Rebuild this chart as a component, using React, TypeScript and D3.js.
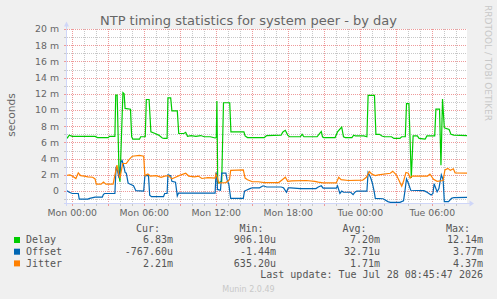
import * as d3 from 'd3';

const W = 497;
const H = 299;

// time window, hours relative to Mon 00:00
const T_START = -0.44;
const T_END = 32.89;

const X_TICKS = [0, 6, 12, 18, 24, 30];
const X_TICK_LABELS = ['Mon 00:00', 'Mon 06:00', 'Mon 12:00', 'Mon 18:00', 'Tue 00:00', 'Tue 06:00'];
const Y_TICKS = [0, 2, 4, 6, 8, 10, 12, 14, 16, 18, 20];

// [hour, milliseconds]
const DELAY: [number, number][] = [
  [-0.44, 6.5], [-0.25, 6.9], [0.0, 6.75], [1.9, 6.75], [2.1, 6.6], [3.0, 6.6], [3.1, 6.75], [3.55, 6.75],
  [3.62, 11.85], [3.74, 11.85], [3.9, 2.0], [3.97, 1.15], [4.22, 12.14], [4.32, 12.0], [4.4, 10.2], [4.85, 10.1],
  [4.95, 6.7], [5.05, 6.4], [5.6, 6.4], [5.7, 6.7], [6.08, 6.7], [6.17, 11.3], [6.4, 11.3], [6.55, 7.3],
  [6.9, 7.1], [7.2, 6.9], [7.5, 6.55], [7.65, 6.5], [7.9, 6.5], [7.97, 11.5], [8.2, 11.5], [8.3, 9.9],
  [8.75, 9.9], [8.87, 7.1], [9.3, 7.1], [9.45, 7.25], [9.6, 6.75], [9.9, 6.85], [10.3, 6.75], [10.7, 6.85],
  [11.0, 6.7], [11.5, 6.7], [11.9, 6.55], [12.0, 6.6], [12.05, 11.1], [12.12, 0.95], [12.45, 1.2], [12.6, 10.9],
  [13.12, 10.9], [13.22, 7.3], [14.3, 7.3], [14.4, 6.8], [14.6, 6.6], [16.0, 6.6], [16.2, 6.85], [17.4, 6.9],
  [17.55, 7.3], [17.75, 7.5], [17.95, 6.9], [18.1, 6.7], [19.0, 6.7], [19.15, 7.0], [19.3, 6.7], [20.4, 6.7],
  [20.6, 7.1], [20.75, 7.35], [20.85, 6.7], [20.95, 6.6], [21.9, 6.6], [22.1, 7.3], [22.45, 7.9], [22.6, 6.7],
  [22.75, 6.6], [23.3, 6.6], [23.45, 6.9], [23.6, 6.8], [24.3, 6.8], [24.55, 6.7], [24.65, 11.8], [25.18, 11.8],
  [25.3, 7.0], [25.6, 7.0], [25.8, 6.8], [26.0, 6.7], [26.6, 6.7], [26.8, 6.5], [27.3, 6.5], [27.45, 6.7],
  [27.75, 6.7], [27.85, 10.8], [28.05, 10.8], [28.25, 1.6], [28.4, 6.8], [28.75, 6.8], [28.9, 6.5], [29.4, 6.4],
  [29.55, 6.8], [30.2, 6.8], [30.3, 10.1], [30.6, 10.1], [30.72, 3.2], [30.85, 11.35], [31.0, 7.8], [31.4, 7.6],
  [31.55, 7.0], [31.8, 6.9], [32.89, 6.85],
];

const OFFSET: [number, number][] = [
  [-0.44, 0.05], [-0.25, -0.15], [0.0, -0.3], [0.5, -0.3], [0.58, -1.0], [1.3, -1.0], [1.45, -0.9], [1.9, -0.75],
  [2.5, -0.75], [2.6, -0.4], [2.7, -0.3], [3.55, -0.3], [3.65, 3.0], [3.75, 2.6], [3.9, 1.6], [4.05, 3.6],
  [4.15, 3.77], [4.3, 3.0], [4.4, 2.3], [4.5, 2.2], [4.65, 1.0], [4.75, 0.9], [5.1, 0.65], [5.3, 0.05],
  [5.95, 0.0], [6.05, 1.9], [6.35, 1.9], [6.45, -0.5], [6.6, -0.7], [7.6, -0.7], [7.7, -0.3], [7.9, -0.3],
  [7.97, 2.0], [8.2, 1.9], [8.3, 1.2], [8.6, 1.1], [8.75, -0.6], [8.85, -0.25], [11.9, -0.25], [11.98, 2.3],
  [12.05, 2.0], [12.1, 0.2], [12.35, 0.1], [12.45, 2.2], [12.8, 2.2], [12.9, 1.4], [13.05, 0.8], [13.2, -0.9],
  [14.25, -0.9], [14.35, 0.0], [14.5, 0.1], [14.8, 0.3], [15.0, 0.4], [15.6, 0.4], [15.9, 0.65], [16.2, 0.5],
  [17.4, 0.5], [17.6, 0.4], [17.85, -0.15], [18.0, 0.4], [18.2, 0.4], [19.0, 0.3], [20.3, 0.3], [20.5, 0.5],
  [20.75, 0.65], [20.9, 0.35], [22.0, 0.35], [22.1, 0.65], [22.3, -0.3], [22.45, 0.0], [22.6, -0.15], [23.2, -0.15],
  [23.4, -0.45], [23.55, -0.15], [23.7, 0.0], [24.55, 0.0], [24.65, 2.3], [24.85, 1.7], [25.0, 1.0], [25.15, 0.0],
  [25.25, -0.9], [25.9, -0.95], [26.3, -1.3], [26.5, -1.4], [27.3, -1.4], [27.6, -1.2], [27.7, -0.2], [27.85, 1.5],
  [28.0, 1.0], [28.2, 0.1], [29.3, 0.05], [29.5, -0.1], [29.9, -0.5], [30.05, -0.3], [30.15, 0.9], [30.25, 0.5],
  [30.4, -0.1], [30.55, 0.3], [30.75, 2.0], [30.9, 1.4], [31.0, -1.3], [31.35, -1.3], [31.6, -0.9], [31.8, -0.8],
  [32.89, -0.77],
];

const JITTER: [number, number][] = [
  [-0.44, 1.95], [-0.2, 2.0], [0.0, 1.85], [0.3, 1.55], [0.5, 2.25], [0.7, 1.9], [1.0, 1.85], [1.3, 1.75],
  [1.7, 1.7], [1.9, 1.5], [2.0, 0.85], [2.4, 0.85], [2.6, 1.1], [2.8, 0.85], [3.4, 0.85], [3.5, 1.6],
  [3.72, 3.2], [3.85, 2.2], [3.97, 1.6], [4.2, 3.4], [4.5, 3.4], [4.75, 3.9], [5.0, 4.3], [5.6, 4.4],
  [5.95, 4.3], [6.05, 1.9], [6.3, 2.1], [6.5, 1.85], [7.0, 1.9], [7.4, 1.7], [7.7, 1.85], [8.0, 1.9],
  [8.3, 1.5], [8.6, 1.7], [8.9, 1.9], [9.45, 2.2], [9.7, 1.85], [10.2, 1.75], [10.5, 1.85], [10.8, 1.55],
  [11.3, 1.65], [11.9, 1.6], [11.97, 2.1], [12.1, 1.6], [12.2, 1.0], [12.8, 1.05], [13.1, 1.4], [13.2, 2.55],
  [14.25, 2.6], [14.4, 1.6], [14.6, 1.4], [15.0, 1.15], [15.5, 1.15], [16.0, 1.05], [17.2, 1.05], [17.5, 1.4],
  [17.75, 1.7], [17.95, 1.2], [18.3, 1.25], [19.5, 1.3], [20.2, 1.2], [20.5, 1.1], [20.9, 1.0], [22.0, 1.0],
  [22.2, 1.7], [22.4, 1.4], [23.0, 1.3], [24.2, 1.35], [24.5, 1.7], [24.75, 2.4], [24.95, 2.1], [25.25, 1.9],
  [25.5, 2.0], [26.5, 2.2], [26.7, 2.45], [27.0, 2.0], [27.2, 1.4], [27.45, 0.6], [27.6, 1.2], [27.8, 2.3],
  [28.0, 2.2], [28.15, 1.6], [28.3, 1.85], [29.6, 1.85], [29.8, 2.1], [30.1, 1.45], [30.4, 1.2], [30.9, 1.3],
  [31.05, 2.6], [31.3, 2.8], [31.5, 2.55], [31.75, 2.75], [31.9, 2.25], [32.89, 2.2],
];

const SERIES_NAMES = ['Delay', 'Offset', 'Jitter'];
const SERIES_COLORS = ['#00CC00', '#0066B3', '#FF8000'];
const LEGEND_HEADERS = ['Cur:', 'Min:', 'Avg:', 'Max:'];
const LEGEND_VALUES = [
  ['6.83m', '906.10u', '7.20m', '12.14m'],
  ['-767.60u', '-1.44m', '32.71u', '3.77m'],
  ['2.21m', '635.20u', '1.71m', '4.37m'],
];

const SANS = '"DejaVu Sans", sans-serif';
const MONO = '"DejaVu Sans Mono", monospace';
const FONT_COLOR = '#666666';
const AXIS_COLOR = '#CFD6F8';
const GRID = '#C8C8C8';
const MGRID = '#EE9A9A';

export default function App() {
  const left = 67;
  const right = 467;
  const top = 29;
  const bottom = 203.2;

  const x = d3.scaleLinear().domain([T_START, T_END]).range([left, right]);
  const y = d3.scaleLinear().domain([-1.5, 20]).range([bottom, top]);

  const line = d3.line<[number, number]>()
    .x((d) => x(d[0]))
    .y((d) => y(d[1]));

  const hours = d3.range(Math.ceil(T_START), T_END);
  const mValues = d3.range(-1, 21);
  const crisp = (v: number) => Math.round(v) + 0.5;

  const series = [DELAY, OFFSET, JITTER];
  const colEnds = [173, 276, 380, 483];
  const headEnds = [160, 263.5, 366.5, 470];
  const rowY = [243.3, 255, 266.7];

  return (
    <svg width={W} height={H} style={{ position: 'fixed', left: 0, top: 0, background: '#F0F0F0' }}>
      <rect width={W} height={H} fill="#F0F0F0" />
      <rect x={left} y={top} width={right - left} height={bottom - top} fill="#FFFFFF" />

      {/* minor + major grid */}
      <g shapeRendering="crispEdges">
        {hours.map((h) => (
          <line key={`v${h}`} x1={crisp(x(h))} x2={crisp(x(h))} y1={top} y2={bottom}
            stroke={h % 3 === 0 ? MGRID : GRID} strokeDasharray="1,1" />
        ))}
        {mValues.map((v) => (
          <line key={`h${v}`} x1={left} x2={right} y1={crisp(y(v))} y2={crisp(y(v))}
            stroke={v % 2 === 0 ? MGRID : GRID} strokeDasharray="1,1" />
        ))}
        {hours.map((h) => (
          <line key={`xt${h}`} x1={crisp(x(h))} x2={crisp(x(h))} y1={bottom} y2={bottom + 3}
            stroke={h % 3 === 0 ? MGRID : GRID} />
        ))}
        {mValues.map((v) => (
          <line key={`yt${v}`} x1={left - 3} x2={left} y1={crisp(y(v))} y2={crisp(y(v))}
            stroke={v % 2 === 0 ? MGRID : GRID} />
        ))}
      </g>

      <defs>
        <clipPath id="plot">
          <rect x={left} y={top - 6} width={right - left} height={bottom - top + 6} />
        </clipPath>
      </defs>
      <g clipPath="url(#plot)">
        {series.map((s, i) => (
          <path key={SERIES_NAMES[i]} d={line(s) ?? ''} fill="none" stroke={SERIES_COLORS[i]}
            strokeWidth={1.2} strokeLinejoin="miter" />
        ))}
      </g>

      {/* axes */}
      <g shapeRendering="crispEdges">
        <line x1={left - 0.5} x2={left - 0.5} y1={bottom + 3} y2={top - 3} stroke={AXIS_COLOR} />
        <line x1={left - 3} x2={right + 3} y1={crisp(bottom)} y2={crisp(bottom)} stroke={AXIS_COLOR} />
      </g>
      <path d={`M${left - 3},${top - 2.5}L${left + 2},${top - 2.5}L${left - 0.5},${top - 7.5}Z`} fill={AXIS_COLOR} />
      <path d={`M${right + 2.5},${crisp(bottom) - 3}L${right + 2.5},${crisp(bottom) + 3}L${right + 7},${crisp(bottom)}Z`} fill={AXIS_COLOR} />

      {/* tick labels */}
      {Y_TICKS.map((v) => (
        <text key={`yl${v}`} x={59} y={y(v) + 3.4} textAnchor="end" fontFamily={SANS} fontSize={9.33} fill={FONT_COLOR}>
          {v === 0 ? '0' : `${v} m`}
        </text>
      ))}
      {X_TICKS.map((h, i) => (
        <text key={`xl${h}`} x={x(h)} y={216} textAnchor="middle" fontFamily={SANS} fontSize={9.33} fill={FONT_COLOR}>
          {X_TICK_LABELS[i]}
        </text>
      ))}

      <text x={248.5} y={24.5} textAnchor="middle" fontFamily={SANS} fontSize={13} fill={FONT_COLOR}>
        NTP timing statistics for system peer - by day
      </text>
      <text transform="translate(15,115) rotate(-90)" textAnchor="middle" fontFamily={SANS} fontSize={10.67} fill={FONT_COLOR}>
        seconds
      </text>
      <text transform="translate(485,5) rotate(90)" fontFamily={SANS} fontSize={9} fill="#C8C8C8">
        RRDTOOL / TOBI OETIKER
      </text>

      {/* legend */}
      {LEGEND_HEADERS.map((t, i) => (
        <text key={t} x={headEnds[i]} y={231.5} textAnchor="end" fontFamily={MONO} fontSize={10} fill="#555">
          {t}
        </text>
      ))}
      {SERIES_NAMES.map((name, r) => (
        <g key={name}>
          <rect x={14} y={rowY[r] - 6.3} width={6} height={6} fill={SERIES_COLORS[r]} />
          <text x={26} y={rowY[r]} fontFamily={MONO} fontSize={10} fill="#555">{name}</text>
          {LEGEND_VALUES[r].map((v, c) => (
            <text key={c} x={colEnds[c]} y={rowY[r]} textAnchor="end" fontFamily={MONO} fontSize={10} fill="#555">
              {v}
            </text>
          ))}
        </g>
      ))}
      <text x={483} y={278.3} textAnchor="end" fontFamily={MONO} fontSize={10} fill="#555">
        Last update: Tue Jul 28 08:45:47 2026
      </text>
      <text x={248.5} y={291.5} textAnchor="middle" fontFamily={SANS} fontSize={8} fill="#C8C8C8">
        Munin 2.0.49
      </text>
    </svg>
  );
}
